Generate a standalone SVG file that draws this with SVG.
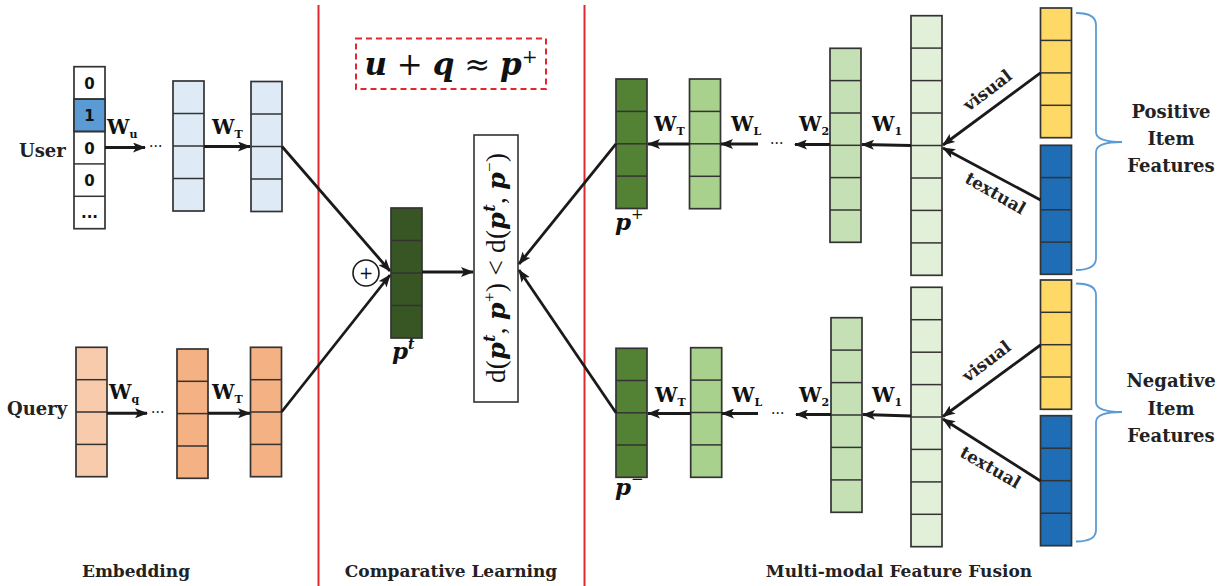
<svg xmlns="http://www.w3.org/2000/svg" width="1229" height="586" viewBox="0 0 1229 586">
<style>
.col{stroke:#333;stroke-width:1.7}
.div{stroke:#333;stroke-width:1.5}
.lbl{font-family:"DejaVu Serif","Liberation Serif",serif;font-weight:bold;fill:#222}
.w{font-family:"DejaVu Serif","Liberation Serif",serif;font-weight:bold;font-size:20px;fill:#111}
.sub{font-size:11px}
.bi{font-family:"DejaVu Serif","Liberation Serif",serif;font-weight:bold;font-style:italic;fill:#111}
.num{font-family:"DejaVu Sans",sans-serif;font-weight:bold;font-size:15px;fill:#111;text-anchor:middle}
.arr{stroke:#1a1a1a;stroke-width:3;fill:none;marker-end:url(#ah)}
.diag{stroke:#1a1a1a;stroke-width:2.8;fill:none;marker-end:url(#ah)}
.dots{font-family:"DejaVu Serif",serif;font-size:14px;fill:#111}
.brace{fill:none;stroke:#5b9bd5;stroke-width:1.8}
</style>
<defs>
<marker id="ah" viewBox="0 0 13 10" refX="12" refY="5" markerWidth="13" markerHeight="10" markerUnits="userSpaceOnUse" orient="auto">
<path d="M0,0 L13,5 L0,10 L3,5 z" fill="#1a1a1a"/>
</marker>
</defs>
<rect width="1229" height="586" fill="#fff"/>

<g id="separators">
<line x1="318.5" y1="5" x2="318.5" y2="586" stroke="#e0282e" stroke-width="2"/>
<line x1="584.5" y1="5" x2="584.5" y2="586" stroke="#e0282e" stroke-width="2"/>
</g>

<g id="user-label"><text class="lbl" x="19" y="157" font-size="18">User</text></g>
<g id="user-onehot">
<rect class="col" x="74" y="66.7" width="31" height="162" fill="#fff"/>
<rect x="74" y="99.1" width="31" height="32.4" fill="#5b9bd5" class="col"/>
<line class="div" x1="74" y1="99.1" x2="105" y2="99.1"/>
<line class="div" x1="74" y1="131.5" x2="105" y2="131.5"/>
<line class="div" x1="74" y1="163.9" x2="105" y2="163.9"/>
<line class="div" x1="74" y1="196.3" x2="105" y2="196.3"/>
<text class="num" x="89.5" y="88.5">0</text>
<text class="num" x="89.5" y="121">1</text>
<text class="num" x="89.5" y="153.5">0</text>
<text class="num" x="89.5" y="186">0</text>
<text class="num" x="89.5" y="218" font-size="12">...</text>
</g>
<g id="user-emb1">
<rect class="col" x="173" y="81" width="31" height="130" fill="#deebf7"/>
<line class="div" x1="173" y1="113.5" x2="204" y2="113.5"/>
<line class="div" x1="173" y1="146" x2="204" y2="146"/>
<line class="div" x1="173" y1="178.5" x2="204" y2="178.5"/>
</g>
<g id="user-emb2">
<rect class="col" x="251" y="81.5" width="31" height="130" fill="#deebf7"/>
<line class="div" x1="251" y1="114" x2="282" y2="114"/>
<line class="div" x1="251" y1="146.5" x2="282" y2="146.5"/>
<line class="div" x1="251" y1="179" x2="282" y2="179"/>
</g>

<g id="query-label"><text class="lbl" x="7" y="415" font-size="18">Query</text></g>
<g id="query-emb0">
<rect class="col" x="76" y="347.3" width="31" height="129.4" fill="#f8cbad"/>
<line class="div" x1="76" y1="379.7" x2="107" y2="379.7"/>
<line class="div" x1="76" y1="412" x2="107" y2="412"/>
<line class="div" x1="76" y1="444.4" x2="107" y2="444.4"/>
</g>
<g id="query-emb1">
<rect class="col" x="177" y="349" width="31" height="129.3" fill="#f4b183"/>
<line class="div" x1="177" y1="381.3" x2="208" y2="381.3"/>
<line class="div" x1="177" y1="413.6" x2="208" y2="413.6"/>
<line class="div" x1="177" y1="446" x2="208" y2="446"/>
</g>
<g id="query-emb2">
<rect class="col" x="250.5" y="347.3" width="31" height="129.4" fill="#f4b183"/>
<line class="div" x1="250.5" y1="379.7" x2="281.5" y2="379.7"/>
<line class="div" x1="250.5" y1="412" x2="281.5" y2="412"/>
<line class="div" x1="250.5" y1="444.4" x2="281.5" y2="444.4"/>
</g>

<g id="objective">
<rect x="356" y="38.5" width="190" height="50.5" fill="#fff" stroke="#e0282e" stroke-width="2" stroke-dasharray="6,4"/>
<text x="451" y="75" text-anchor="middle" font-size="31"><tspan class="bi">u</tspan><tspan font-family="DejaVu Serif,serif" fill="#111"> + </tspan><tspan class="bi">q</tspan><tspan font-family="DejaVu Serif,serif" fill="#111"> ≈ </tspan><tspan class="bi">p</tspan><tspan font-family="DejaVu Serif,serif" fill="#111" font-size="19" dy="-12">+</tspan></text>
</g>
<g id="pt">
<rect class="col" x="391" y="208" width="31" height="130" fill="#375623"/>
<line class="div" x1="391" y1="240.5" x2="422" y2="240.5"/>
<line class="div" x1="391" y1="273" x2="422" y2="273"/>
<line class="div" x1="391" y1="305.5" x2="422" y2="305.5"/>
<text x="392" y="359" font-size="23"><tspan class="bi">p</tspan><tspan class="bi" font-size="14" font-weight="normal" dy="-10">t</tspan></text>
</g>
<g id="sum">
<circle cx="366" cy="273" r="13" fill="#fff" stroke="#1a1a1a" stroke-width="1.6"/>
<text x="366" y="279" text-anchor="middle" font-family="DejaVu Sans,sans-serif" font-size="17" fill="#111">+</text>
</g>
<g id="loss">
<rect x="474" y="135" width="44" height="267" fill="#fff" stroke="#333" stroke-width="1.6"/>
<text transform="translate(496,268) rotate(-90)" x="0" y="9" text-anchor="middle" font-size="27" font-family="Liberation Serif,serif" fill="#111" textLength="230" lengthAdjust="spacing">d(<tspan class="bi" font-size="25">p</tspan><tspan class="bi" font-weight="normal" font-size="16" dy="-10">t</tspan><tspan dy="10">, </tspan><tspan class="bi" font-size="25">p</tspan><tspan font-size="17" dy="-10">+</tspan><tspan dy="10">) &lt; d(</tspan><tspan class="bi" font-size="25">p</tspan><tspan class="bi" font-weight="normal" font-size="16" dy="-10">t</tspan><tspan dy="10">, </tspan><tspan class="bi" font-size="25">p</tspan><tspan font-size="17" dy="-10">−</tspan><tspan dy="10">)</tspan></text>
</g>

<g id="pplus">
<rect class="col" x="616" y="79" width="31" height="129.5" fill="#548235"/>
<line class="div" x1="616" y1="111.4" x2="647" y2="111.4"/>
<line class="div" x1="616" y1="143.8" x2="647" y2="143.8"/>
<line class="div" x1="616" y1="176.1" x2="647" y2="176.1"/>
<text x="615" y="230" font-size="23"><tspan class="bi">p</tspan><tspan font-family="DejaVu Serif,serif" fill="#111" font-size="15" dy="-11">+</tspan></text>
</g>
<g id="pos-l1">
<rect class="col" x="689.5" y="79" width="31" height="129.7" fill="#a9d18e"/>
<line class="div" x1="689.5" y1="111.4" x2="720.5" y2="111.4"/>
<line class="div" x1="689.5" y1="143.8" x2="720.5" y2="143.8"/>
<line class="div" x1="689.5" y1="176.3" x2="720.5" y2="176.3"/>
</g>
<g id="pos-l2">
<rect class="col" x="830" y="48.3" width="31" height="194" fill="#c5e0b4"/>
<line class="div" x1="830" y1="80.6" x2="861" y2="80.6"/>
<line class="div" x1="830" y1="113" x2="861" y2="113"/>
<line class="div" x1="830" y1="145.3" x2="861" y2="145.3"/>
<line class="div" x1="830" y1="177.6" x2="861" y2="177.6"/>
<line class="div" x1="830" y1="210" x2="861" y2="210"/>
</g>
<g id="pos-l3">
<rect class="col" x="911" y="15.7" width="31" height="259.6" fill="#e2f0d9"/>
<line class="div" x1="911" y1="48.1" x2="942" y2="48.1"/>
<line class="div" x1="911" y1="80.6" x2="942" y2="80.6"/>
<line class="div" x1="911" y1="113" x2="942" y2="113"/>
<line class="div" x1="911" y1="145.5" x2="942" y2="145.5"/>
<line class="div" x1="911" y1="178" x2="942" y2="178"/>
<line class="div" x1="911" y1="210.4" x2="942" y2="210.4"/>
<line class="div" x1="911" y1="242.9" x2="942" y2="242.9"/>
</g>
<g id="pos-visual">
<rect class="col" x="1040.5" y="8" width="31" height="129.7" fill="#ffd966"/>
<line class="div" x1="1040.5" y1="40.4" x2="1071.5" y2="40.4"/>
<line class="div" x1="1040.5" y1="72.9" x2="1071.5" y2="72.9"/>
<line class="div" x1="1040.5" y1="105.3" x2="1071.5" y2="105.3"/>
</g>
<g id="pos-textual">
<rect class="col" x="1040.5" y="145.3" width="31" height="129" fill="#1f6db5"/>
<line class="div" x1="1040.5" y1="177.6" x2="1071.5" y2="177.6"/>
<line class="div" x1="1040.5" y1="209.8" x2="1071.5" y2="209.8"/>
<line class="div" x1="1040.5" y1="242.1" x2="1071.5" y2="242.1"/>
</g>
<g id="pos-brace">
<path class="brace" d="M1076,13 Q1096,13 1096,25 L1096,132 Q1096,142 1122,142 Q1096,142 1096,152 L1096,258 Q1096,270 1076,270"/>
<text class="lbl" font-size="18" text-anchor="middle" x="1171" y="118">Positive</text>
<text class="lbl" font-size="18" text-anchor="middle" x="1171" y="145">Item</text>
<text class="lbl" font-size="18" text-anchor="middle" x="1171" y="172">Features</text>
</g>

<g id="pminus">
<rect class="col" x="616" y="348.3" width="31" height="129" fill="#548235"/>
<line class="div" x1="616" y1="380.5" x2="647" y2="380.5"/>
<line class="div" x1="616" y1="412.8" x2="647" y2="412.8"/>
<line class="div" x1="616" y1="445" x2="647" y2="445"/>
<text x="615" y="495" font-size="23"><tspan class="bi">p</tspan><tspan font-family="DejaVu Serif,serif" fill="#111" font-size="15" dy="-11">−</tspan></text>
</g>
<g id="neg-l1">
<rect class="col" x="690.7" y="347.7" width="31" height="129.6" fill="#a9d18e"/>
<line class="div" x1="690.7" y1="380.1" x2="721.7" y2="380.1"/>
<line class="div" x1="690.7" y1="412.5" x2="721.7" y2="412.5"/>
<line class="div" x1="690.7" y1="444.9" x2="721.7" y2="444.9"/>
</g>
<g id="neg-l2">
<rect class="col" x="831" y="317.7" width="31" height="194.6" fill="#c5e0b4"/>
<line class="div" x1="831" y1="350.1" x2="862" y2="350.1"/>
<line class="div" x1="831" y1="382.6" x2="862" y2="382.6"/>
<line class="div" x1="831" y1="415" x2="862" y2="415"/>
<line class="div" x1="831" y1="447.4" x2="862" y2="447.4"/>
<line class="div" x1="831" y1="479.9" x2="862" y2="479.9"/>
</g>
<g id="neg-l3">
<rect class="col" x="911" y="287.3" width="31" height="259.4" fill="#e2f0d9"/>
<line class="div" x1="911" y1="319.7" x2="942" y2="319.7"/>
<line class="div" x1="911" y1="352.2" x2="942" y2="352.2"/>
<line class="div" x1="911" y1="384.6" x2="942" y2="384.6"/>
<line class="div" x1="911" y1="417" x2="942" y2="417"/>
<line class="div" x1="911" y1="449.4" x2="942" y2="449.4"/>
<line class="div" x1="911" y1="481.9" x2="942" y2="481.9"/>
<line class="div" x1="911" y1="514.3" x2="942" y2="514.3"/>
</g>
<g id="neg-visual">
<rect class="col" x="1040.5" y="280" width="31" height="129.3" fill="#ffd966"/>
<line class="div" x1="1040.5" y1="312.3" x2="1071.5" y2="312.3"/>
<line class="div" x1="1040.5" y1="344.7" x2="1071.5" y2="344.7"/>
<line class="div" x1="1040.5" y1="377" x2="1071.5" y2="377"/>
</g>
<g id="neg-textual">
<rect class="col" x="1040.5" y="415.7" width="31" height="130" fill="#1f6db5"/>
<line class="div" x1="1040.5" y1="448.2" x2="1071.5" y2="448.2"/>
<line class="div" x1="1040.5" y1="480.7" x2="1071.5" y2="480.7"/>
<line class="div" x1="1040.5" y1="513.2" x2="1071.5" y2="513.2"/>
</g>
<g id="neg-brace">
<path class="brace" d="M1076,283.5 Q1096,283.5 1096,295 L1096,402 Q1096,412 1122,412 Q1096,412 1096,422 L1096,530 Q1096,541.5 1076,541.5"/>
<text class="lbl" font-size="18" text-anchor="middle" x="1171" y="387">Negative</text>
<text class="lbl" font-size="18" text-anchor="middle" x="1171" y="415">Item</text>
<text class="lbl" font-size="18" text-anchor="middle" x="1171" y="442">Features</text>
</g>

<g id="connectors">
<line class="arr" x1="105" y1="147.5" x2="145" y2="147.5"/>
<line class="arr" x1="204" y1="146.5" x2="250" y2="146.5"/>
<line class="arr" x1="107" y1="413.3" x2="147" y2="413.3"/>
<line class="arr" x1="208" y1="413.3" x2="250" y2="413.3"/>
<line class="diag" x1="282" y1="146.5" x2="390" y2="271"/>
<line class="diag" x1="281.5" y1="412" x2="390" y2="275"/>
<line class="arr" x1="422" y1="272" x2="473" y2="272"/>
<line class="diag" x1="616" y1="143.8" x2="519" y2="264"/>
<line class="diag" x1="616" y1="412.8" x2="519" y2="270"/>
<line class="arr" x1="689.5" y1="144" x2="648" y2="144"/>
<line class="arr" x1="758" y1="144" x2="721" y2="144"/>
<line class="arr" x1="830" y1="144.5" x2="795" y2="144.5"/>
<line class="arr" x1="911" y1="145.5" x2="862" y2="144.5"/>
<line class="diag" x1="1040.5" y1="72.9" x2="943" y2="145"/>
<line class="diag" x1="1040.5" y1="200" x2="943" y2="148"/>
<line class="arr" x1="690.7" y1="413.5" x2="648" y2="413.5"/>
<line class="arr" x1="758" y1="413.5" x2="722" y2="413.5"/>
<line class="arr" x1="831" y1="414.5" x2="796" y2="414.5"/>
<line class="arr" x1="911" y1="416" x2="863" y2="414.5"/>
<line class="diag" x1="1040.5" y1="345" x2="943" y2="416.5"/>
<line class="diag" x1="1040.5" y1="481" x2="943" y2="419"/>
</g>

<g id="connector-labels">
<text class="w" x="107" y="134">W<tspan class="sub" dy="4">u</tspan></text>
<text class="dots" x="149" y="151">···</text>
<text class="w" x="212" y="134">W<tspan class="sub" dy="4">T</tspan></text>
<text class="w" x="109" y="399">W<tspan class="sub" dy="4">q</tspan></text>
<text class="dots" x="151" y="417">···</text>
<text class="w" x="212" y="399">W<tspan class="sub" dy="4">T</tspan></text>
<text class="w" x="654" y="131">W<tspan class="sub" dy="4">T</tspan></text>
<text class="w" x="731" y="131">W<tspan class="sub" dy="4">L</tspan></text>
<text class="dots" x="770" y="148">···</text>
<text class="w" x="799" y="131">W<tspan class="sub" dy="4">2</tspan></text>
<text class="w" x="872" y="131">W<tspan class="sub" dy="4">1</tspan></text>
<text class="w" x="655" y="402">W<tspan class="sub" dy="4">T</tspan></text>
<text class="w" x="732" y="402">W<tspan class="sub" dy="4">L</tspan></text>
<text class="dots" x="771" y="418">···</text>
<text class="w" x="799" y="402">W<tspan class="sub" dy="4">2</tspan></text>
<text class="w" x="872" y="402">W<tspan class="sub" dy="4">1</tspan></text>
<text class="lbl" font-size="17" text-anchor="middle" transform="translate(988,91) rotate(-37)" y="5">visual</text>
<text class="lbl" font-size="17" text-anchor="middle" transform="translate(995,194) rotate(30)" y="5">textual</text>
<text class="lbl" font-size="17" text-anchor="middle" transform="translate(987,362) rotate(-37)" y="5">visual</text>
<text class="lbl" font-size="17" text-anchor="middle" transform="translate(990,468) rotate(30)" y="5">textual</text>
</g>

<g id="section-titles">
<text class="lbl" font-size="17" text-anchor="middle" x="136" y="577">Embedding</text>
<text class="lbl" font-size="17" text-anchor="middle" x="451" y="577">Comparative Learning</text>
<text class="lbl" font-size="17" text-anchor="middle" x="899" y="577">Multi-modal Feature Fusion</text>
</g>
</svg>
